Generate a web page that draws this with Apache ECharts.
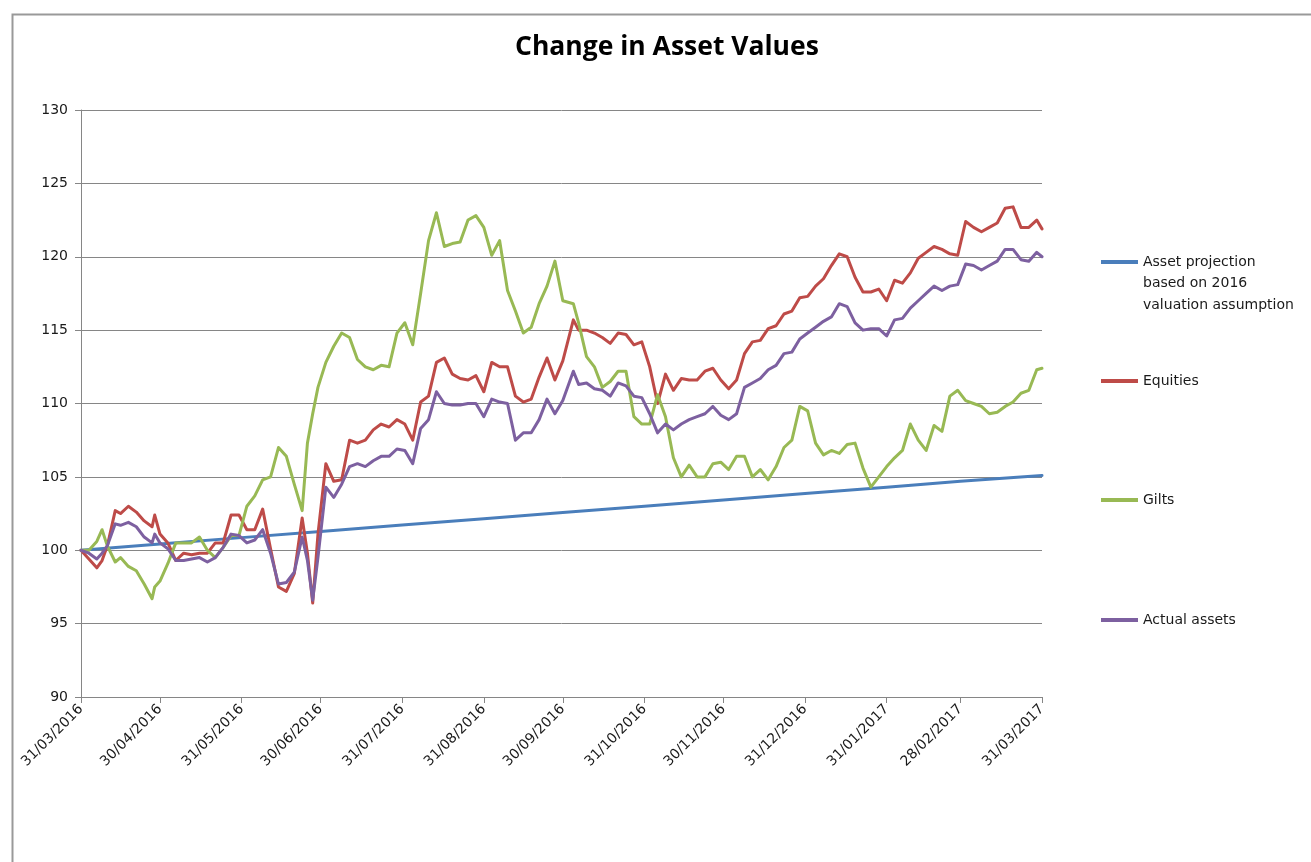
<!DOCTYPE html>
<html>
<head>
<meta charset="utf-8">
<title>Change in Asset Values</title>
<script src="https://cdn.jsdelivr.net/npm/echarts@6.0.0/dist/echarts.min.js"></script>
<style>
  html, body { margin: 0; padding: 0; background: #fff; }
  #chart { width: 1311px; height: 862px; }
</style>
</head>
<body>
<div id="chart"></div>
<script>
// days counted from 31/03/2016 at which the lines were read
const sampleDays = [
  0, 3, 6, 8, 10, 13, 15, 18, 21, 24,
  27, 28, 30, 33, 36, 39, 42, 45, 48, 51,
  54, 57, 60, 63, 66, 69, 72, 75, 78, 81,
  84, 86, 88, 90, 93, 96, 99, 102, 105, 108,
  111, 114, 117, 120, 123, 126, 129, 132, 135, 138,
  141, 144, 147, 150, 153, 156, 159, 162, 165, 168,
  171, 174, 177, 180, 183, 187, 189, 192, 195, 198,
  201, 204, 207, 210, 213, 216, 219, 222, 225, 228,
  231, 234, 237, 240, 243, 246, 249, 252, 255, 258,
  261, 264, 267, 270, 273, 276, 279, 282, 285, 288,
  291, 294, 297, 300, 303, 306, 309, 312, 315, 318,
  321, 324, 327, 330, 333, 336, 339, 342, 345, 348,
  351, 354, 357, 360, 363, 365
]

const equities = [
  100, 99.4, 98.8, 99.3, 100.3, 102.7, 102.5, 103.0, 102.6, 102.0,
  101.6, 102.4, 101.1, 100.5, 99.3, 99.8, 99.7, 99.8, 99.8, 100.5,
  100.5, 102.4, 102.4, 101.4, 101.4, 102.8, 100.1, 97.5, 97.2, 98.4,
  102.2, 99.8, 96.4, 101.1, 105.9, 104.7, 104.8, 107.5, 107.3, 107.5,
  108.2, 108.6, 108.4, 108.9, 108.6, 107.5, 110.1, 110.5, 112.8, 113.1,
  112.0, 111.7, 111.6, 111.9, 110.8, 112.8, 112.5, 112.5, 110.5, 110.1,
  110.3, 111.8, 113.1, 111.6, 112.9, 115.7, 115.0, 115.0, 114.8, 114.5,
  114.1, 114.8, 114.7, 114.0, 114.2, 112.5, 110.0, 112.0, 110.9, 111.7,
  111.6, 111.6, 112.2, 112.4, 111.6, 111.0, 111.6, 113.4, 114.2, 114.3,
  115.1, 115.3, 116.1, 116.3, 117.2, 117.3, 118.0, 118.5, 119.4, 120.2,
  120.0, 118.6, 117.6, 117.6, 117.8, 117.0, 118.4, 118.2, 118.9, 119.9,
  120.3, 120.7, 120.5, 120.2, 120.1, 122.4, 122.0, 121.7, 122.0, 122.3,
  123.3, 123.4, 122.0, 122.0, 122.5, 121.9
]

const gilts = [
  100, 100.0, 100.6, 101.4, 100.3, 99.2, 99.5, 98.9, 98.6, 97.7,
  96.7, 97.5, 97.9, 99.1, 100.5, 100.5, 100.5, 100.9, 100.0, 99.5,
  100.2, 101.0, 101.0, 103.0, 103.7, 104.8, 105.0, 107.0, 106.4, 104.5,
  102.7, 107.3, 109.3, 111.1, 112.8, 113.9, 114.8, 114.5, 113.0, 112.5,
  112.3, 112.6, 112.5, 114.8, 115.5, 114.0, 117.5, 121.1, 123.0, 120.7,
  120.9, 121.0, 122.5, 122.8, 122.0, 120.1, 121.1, 117.7, 116.3, 114.8,
  115.2, 116.8, 118.0, 119.7, 117.0, 116.8, 115.5, 113.2, 112.5, 111.1,
  111.5, 112.2, 112.2, 109.1, 108.6, 108.6, 110.6, 109.1, 106.3, 105.0,
  105.8, 105.0, 105.0, 105.9, 106.0, 105.5, 106.4, 106.4, 105.0, 105.5,
  104.8, 105.7, 107.0, 107.5, 109.8, 109.5, 107.3, 106.5, 106.8, 106.6,
  107.2, 107.3, 105.6, 104.3, 105.0, 105.7, 106.3, 106.8, 108.6, 107.5,
  106.8, 108.5, 108.1, 110.5, 110.9, 110.2, 110.0, 109.8, 109.3, 109.4,
  109.8, 110.1, 110.7, 110.9, 112.3, 112.4
]

const actualAssets = [
  100, 99.8, 99.4, 99.8, 100.3, 101.8, 101.7, 101.9, 101.6, 100.9,
  100.5, 101.1, 100.5, 100.1, 99.3, 99.3, 99.4, 99.5, 99.2, 99.5,
  100.2, 101.1, 101.0, 100.5, 100.7, 101.4, 99.8, 97.7, 97.8, 98.5,
  100.9, 99.3, 96.6, 99.5, 104.3, 103.6, 104.5, 105.7, 105.9, 105.7,
  106.1, 106.4, 106.4, 106.9, 106.8, 105.9, 108.3, 108.9, 110.8, 110.0,
  109.9, 109.9, 110.0, 110.0, 109.1, 110.3, 110.1, 110.0, 107.5, 108.0,
  108.0, 108.9, 110.3, 109.3, 110.2, 112.2, 111.3, 111.4, 111.0, 110.9,
  110.5, 111.4, 111.2, 110.5, 110.4, 109.3, 108.0, 108.6, 108.2, 108.6,
  108.9, 109.1, 109.3, 109.8, 109.2, 108.9, 109.3, 111.1, 111.4, 111.7,
  112.3, 112.6, 113.4, 113.5, 114.4, 114.8, 115.2, 115.6, 115.9, 116.8,
  116.6, 115.5, 115.0, 115.1, 115.1, 114.6, 115.7, 115.8, 116.5, 117.0,
  117.5, 118.0, 117.7, 118.0, 118.1, 119.5, 119.4, 119.1, 119.4, 119.7,
  120.5, 120.5, 119.8, 119.7, 120.3, 120.0
]

// projection read at each month end
const projectionDays = [0, 30, 61, 91, 122, 153, 183, 214, 244, 275, 306, 334, 365]
const projection = [100, 100.42, 100.86, 101.28, 101.72, 102.15, 102.57, 103.0, 103.43, 103.86, 104.3, 104.7, 105.1]

const seriesNames = [
  'Asset projection\nbased on 2016\nvaluation assumption',
  'Equities',
  'Gilts',
  'Actual assets'
]
const seriesColors = ['#4A7EBB', '#BE4B48', '#98B954', '#7D60A0']

// one category per calendar day, 31/03/2016 .. 31/03/2017
const startDate = Date.UTC(2016, 2, 31)
const DAY = 86400000
const pad = n => String(n).padStart(2, '0')
const categories = []
for (let i = 0; i <= 365; i++) {
  const d = new Date(startDate + i * DAY)
  categories.push(pad(d.getUTCDate()) + '/' + pad(d.getUTCMonth() + 1) + '/' + d.getUTCFullYear())
}
const isMonthEnd = (index) => new Date(startDate + (index + 1) * DAY).getUTCDate() === 1

const pairs = (days, values) => days.map((d, i) => [d, values[i]])

const axisGray = '#868686'
const labelFont = { fontFamily: 'DejaVu Sans', fontSize: 14, color: '#1a1a1a' }

const legendBase = {
  orient: 'vertical',
  left: 1101,
  padding: 0,
  itemWidth: 37,
  itemHeight: 4,
  icon: 'rect',
  selectedMode: false
}

const chart = echarts.init(document.getElementById('chart'))

const makeLine = (name, color, data) => ({
  name,
  type: 'line',
  data,
  showSymbol: false,
  symbol: 'none',
  smooth: false,
  color,
  lineStyle: { color, width: 3, join: 'round', cap: 'round' }
})

chart.setOption({
  animation: false,
  backgroundColor: '#fff',
  title: {
    text: 'Change in Asset Values',
    left: 515,
    top: 31,
    padding: 0,
    textStyle: { fontFamily: 'Open Sans', fontWeight: 'bold', fontSize: 26.5, lineHeight: 32, color: '#000' }
  },
  graphic: [{
    type: 'rect',
    left: 10,
    top: 12,
    silent: true,
    z: -10,
    shape: { width: 1340, height: 900 },
    style: { fill: 'none', stroke: '#999', lineWidth: 2 }
  }],
  legend: [
    {
      // two blank lines first so the first text line sits on the icon
      ...legendBase,
      top: 262 - 2.5 * 21.5,
      data: [seriesNames[0]],
      formatter: name => '\n\n' + name,
      textStyle: { ...labelFont, lineHeight: 21.5 }
    },
    { ...legendBase, top: 381 - 10.5, data: [seriesNames[1]], textStyle: { ...labelFont, lineHeight: 21 } },
    { ...legendBase, top: 500 - 10.5, data: [seriesNames[2]], textStyle: { ...labelFont, lineHeight: 21 } },
    { ...legendBase, top: 620 - 10.5, data: [seriesNames[3]], textStyle: { ...labelFont, lineHeight: 21 } }
  ],
  grid: {
    left: 81,
    right: 269,
    top: 110,
    bottom: 165,
    containLabel: false,
    outerBoundsMode: 'none'
  },
  xAxis: {
    type: 'category',
    data: categories,
    boundaryGap: false,
    axisLine: { lineStyle: { color: axisGray, width: 1 } },
    axisTick: { show: true, interval: isMonthEnd, length: 6, lineStyle: { color: axisGray } },
    axisLabel: { interval: isMonthEnd, rotate: 45, margin: 10, ...labelFont },
    splitLine: { show: false }
  },
  yAxis: {
    type: 'value',
    min: 90,
    max: 130,
    interval: 5,
    axisLine: { show: true, lineStyle: { color: axisGray, width: 1 } },
    axisTick: { show: true, length: 6, lineStyle: { color: axisGray } },
    axisLabel: { margin: 13, ...labelFont },
    splitLine: { show: true, lineStyle: { color: axisGray, width: 1 } }
  },
  series: [
    makeLine(seriesNames[0], seriesColors[0], pairs(projectionDays, projection)),
    makeLine(seriesNames[1], seriesColors[1], pairs(sampleDays, equities)),
    makeLine(seriesNames[2], seriesColors[2], pairs(sampleDays, gilts)),
    makeLine(seriesNames[3], seriesColors[3], pairs(sampleDays, actualAssets))
  ]
})

window.addEventListener('resize', () => chart.resize())
</script>
</body>
</html>
